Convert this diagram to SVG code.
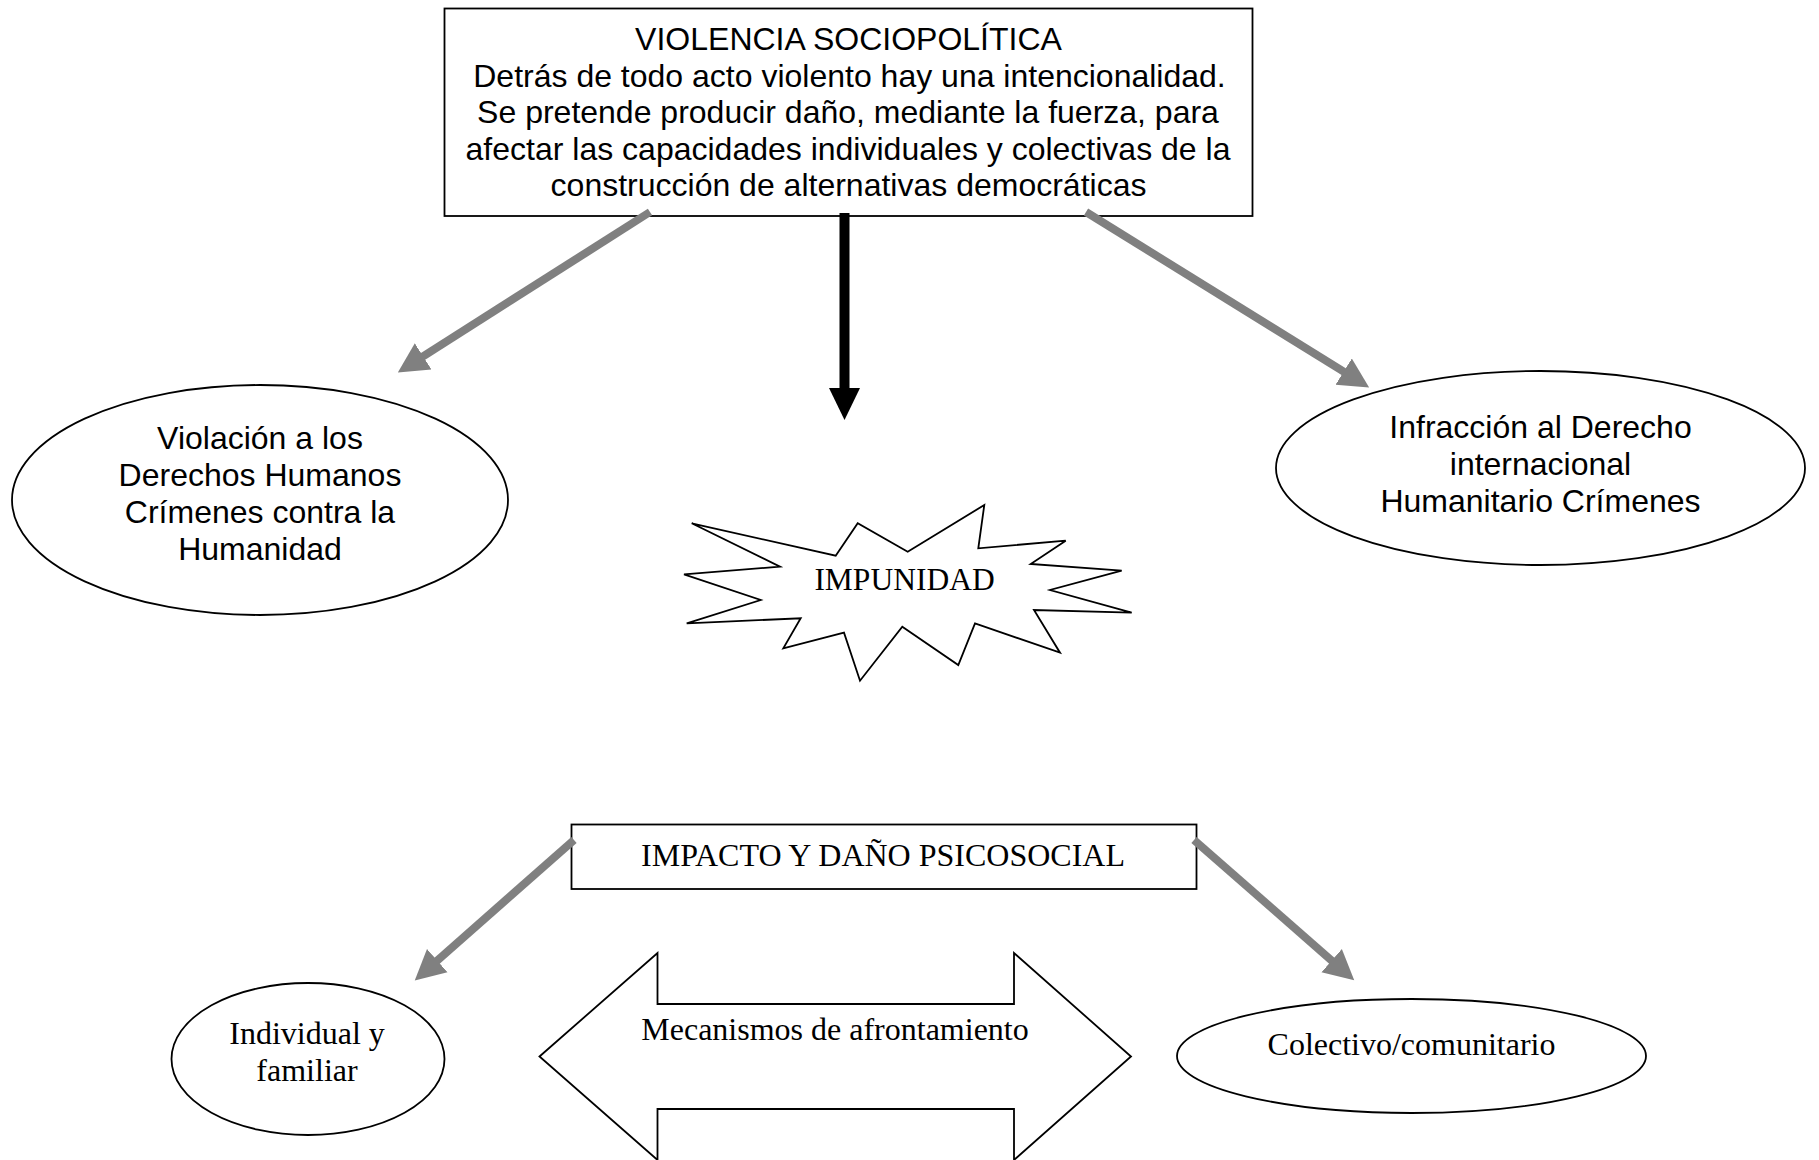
<svg xmlns="http://www.w3.org/2000/svg" width="1819" height="1160" viewBox="0 0 1819 1160">
  <style>
    .box { fill: #ffffff; stroke: #000000; stroke-width: 1.8; }
    .shape { fill: #ffffff; stroke: #000000; stroke-width: 1.8; }
    .sans { font-family: "Liberation Sans", Arial, sans-serif; font-size: 32px; fill: #000000; text-anchor: middle; }
    .serif { font-family: "Liberation Serif", "Times New Roman", serif; font-size: 32px; fill: #000000; text-anchor: middle; }
    .gray { stroke: #808080; stroke-width: 8; fill: none; stroke-linecap: butt; marker-end: url(#grayHead); }
    .black { stroke: #000000; stroke-width: 10; fill: none; stroke-linecap: butt; marker-end: url(#blackHead); }
  </style>
  <defs>
    <marker id="grayHead" markerUnits="userSpaceOnUse" markerWidth="34" markerHeight="36" viewBox="0 -18 34 36" refX="1" refY="0" orient="auto">
      <path d="M0,-15.5 L30,0 L0,15.5 Z" fill="#808080"/>
    </marker>
    <marker id="blackHead" markerUnits="userSpaceOnUse" markerWidth="36" markerHeight="36" viewBox="0 -18 36 36" refX="1" refY="0" orient="auto">
      <path d="M0,-15.5 L32,0 L0,15.5 Z" fill="#000000"/>
    </marker>
  </defs>
  <rect width="1819" height="1160" fill="#ffffff"/>

  <g id="node-violencia">
    <rect class="box" x="444.5" y="8.5" width="808" height="207.5"/>
    <text class="sans" x="848.5" y="50">VIOLENCIA SOCIOPOLÍTICA</text>
    <text class="sans" x="849.5" y="86.5">Detrás de todo acto violento hay una intencionalidad.</text>
    <text class="sans" x="848" y="123">Se pretende producir daño, mediante la fuerza, para</text>
    <text class="sans" x="848" y="159.5">afectar las capacidades individuales y colectivas de la</text>
    <text class="sans" x="848.5" y="196">construcción de alternativas democráticas</text>
  </g>

  <g id="node-ddhh">
    <ellipse class="shape" cx="260" cy="500" rx="248" ry="115"/>
    <text class="sans" x="260" y="449">Violación a los</text>
    <text class="sans" x="260" y="486">Derechos Humanos</text>
    <text class="sans" x="260" y="523">Crímenes contra la</text>
    <text class="sans" x="260" y="560">Humanidad</text>
  </g>

  <g id="node-dih">
    <ellipse class="shape" cx="1540.5" cy="468" rx="264.5" ry="97"/>
    <text class="sans" x="1540.5" y="438">Infracción al Derecho</text>
    <text class="sans" x="1540.5" y="475">internacional</text>
    <text class="sans" x="1540.5" y="512">Humanitario Crímenes</text>
  </g>

  <g id="node-impunidad">
    <polygon class="shape" points="691.7,523.3 835.7,555.7 857.7,523.3 907.7,551.7 984.3,505 978.3,548.3 1065.7,540.7 1030.7,564 1121.7,570.7 1050,590 1131.7,612.7 1034,610 1060,652.7 975,623.3 958.3,665 902.3,626.7 860,680.7 844,632.7 783.3,648.3 800.7,618.3 686.7,623.3 760.7,600 684,574.3 780,566.7"/>
    <text class="serif" x="904.5" y="590" style="font-size:31.5px">IMPUNIDAD</text>
  </g>

  <g id="node-impacto">
    <rect class="box" x="571.5" y="824.5" width="625" height="64.5"/>
    <text class="serif" x="883" y="866">IMPACTO Y DAÑO PSICOSOCIAL</text>
  </g>

  <g id="node-individual">
    <ellipse class="shape" cx="308" cy="1059" rx="136.5" ry="76"/>
    <text class="serif" x="307" y="1044">Individual y</text>
    <text class="serif" x="307" y="1080.5">familiar</text>
  </g>

  <g id="node-mecanismos">
    <polygon class="shape" points="539.5,1056.5 657.5,953 657.5,1004 1014,1004 1014,953 1131,1056.5 1014,1160 1014,1109 657.5,1109 657.5,1160"/>
    <text class="serif" x="835" y="1040">Mecanismos de afrontamiento</text>
  </g>

  <g id="node-colectivo">
    <ellipse class="shape" cx="1411.5" cy="1056" rx="234.5" ry="57"/>
    <text class="serif" x="1411.5" y="1055">Colectivo/comunitario</text>
  </g>

  <g id="connectors">
    <line class="gray" x1="650" y1="212" x2="422.3" y2="356.9"/>
    <line class="black" x1="844.5" y1="213" x2="844.5" y2="389"/>
    <line class="gray" x1="1086" y1="212" x2="1344.5" y2="372.2"/>
    <line class="gray" x1="574" y1="840" x2="436.5" y2="961.2"/>
    <line class="gray" x1="1194" y1="840" x2="1332.4" y2="961.2"/>
  </g>
</svg>
